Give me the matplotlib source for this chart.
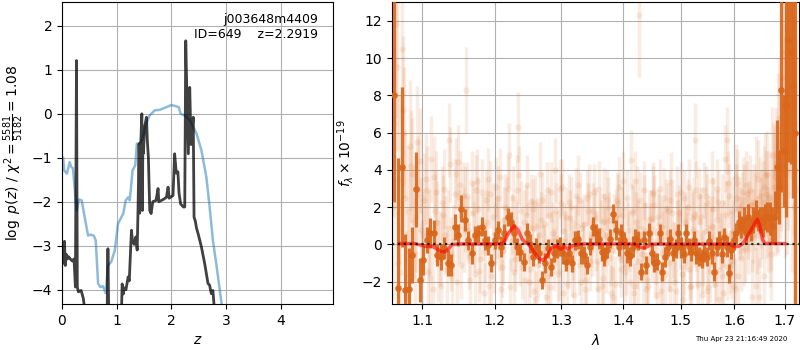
import matplotlib
matplotlib.use("Agg")
import matplotlib.pyplot as plt
from matplotlib.ticker import NullLocator, NullFormatter

# ---- left panel: redshift probability ----
z_prior = [0.00, 0.02, 0.04, 0.09, 0.14, 0.17, 0.20, 0.25, 0.27, 0.31, 0.36, 0.415, 0.476,
           0.52, 0.58, 0.617, 0.66, 0.70, 0.75, 0.80, 0.84, 0.90, 0.965, 1.025, 1.12, 1.165,
           1.21, 1.24, 1.29, 1.34, 1.37, 1.42, 1.47, 1.53, 1.60, 1.70, 1.79, 1.91, 2.00,
           2.09, 2.135, 2.17, 2.245, 2.34, 2.46, 2.55, 2.64, 2.70, 2.76, 2.83, 2.92, 2.96]
logp_prior = [-1.00, -0.99, -1.29, -1.36, -1.10, -1.21, -1.24, -1.97, -2.20, -1.95, -1.97, -2.35,
              -2.77, -2.75, -2.77, -2.88, -3.86, -3.94, -3.92, -4.08, -3.45, -3.37, -3.11, -2.50,
              -2.27, -1.97, -1.90, -1.97, -1.29, -1.17, -0.68, -0.68, -0.57, -0.27, -0.04, 0.08,
              0.09, 0.15, 0.20, 0.17, 0.15, 0.00, -0.04, -0.15, -0.45, -0.83, -1.44, -2.12,
              -2.88, -3.49, -4.33, -4.70]

z_grid = [0.00, 0.01, 0.03, 0.045, 0.06, 0.08, 0.10, 0.12, 0.15, 0.19, 0.22, 0.245, 0.265,
          0.28, 0.30, 0.35, 0.39, 0.43, 0.50, 0.60, 0.70, 0.80, 0.825, 0.84, 0.855, 0.88,
          0.95, 1.05, 1.09, 1.10, 1.12, 1.14, 1.17, 1.21, 1.23, 1.27, 1.29, 1.32, 1.35,
          1.375, 1.39, 1.41, 1.42, 1.44, 1.46, 1.47, 1.48, 1.49, 1.51, 1.545, 1.56, 1.58,
          1.605, 1.63, 1.66, 1.72, 1.757, 1.77, 1.85, 1.91, 1.94, 1.96, 2.03, 2.06, 2.09,
          2.12, 2.14, 2.17, 2.22, 2.245, 2.263, 2.28, 2.31, 2.336, 2.36, 2.40, 2.415, 2.44,
          2.46, 2.49, 2.55, 2.61, 2.67, 2.70, 2.73, 2.76, 2.79, 2.85]
logp_z = [-3.03, -3.30, -3.40, -2.90, -3.45, -3.20, -3.30, -3.25, -3.30, -3.35, -3.30, -3.94,
          1.21, -3.94, -4.05, -4.02, -4.20, -4.60, -5.00, -5.30, -5.40, -5.20, -4.60, -3.07,
          -4.60, -5.00, -5.00, -4.80, -4.40, -3.87, -4.10, -3.96, -4.00, -3.71, -3.80, -2.65,
          -2.90, -2.97, -2.80, -3.10, -2.20, -0.68, -2.26, -0.70, 0.00, -2.20, -0.50, -0.90,
          -0.30, -0.08, -0.60, -1.00, -2.20, -2.27, -2.00, -1.97, -1.70, -2.00, -1.95, -1.90,
          -1.67, -1.92, -1.86, -0.91, -1.35, -1.32, -1.80, -2.05, -2.12, -2.12, 1.66, 0.68,
          -0.91, 0.60, -0.70, -0.08, -2.35, -2.45, -2.60, -2.73, -3.03, -3.41, -3.86, -3.90,
          -4.09, -4.02, -4.50, -5.00]

# ---- right panel: 1D spectrum ----
wave = [1.0636, 1.0683, 1.0730, 1.0777, 1.0824, 1.0871, 1.0918, 1.0965, 1.1012, 1.1059,
        1.1106, 1.1153, 1.1200, 1.1247, 1.1294, 1.1341, 1.1388, 1.1435, 1.1482, 1.1529,
        1.1576, 1.1623, 1.1670, 1.1717, 1.1764, 1.1811, 1.1858, 1.1905, 1.1952, 1.1999,
        1.2046, 1.2093, 1.2140, 1.2187, 1.2234, 1.2281, 1.2328, 1.2375, 1.2422, 1.2469,
        1.2516, 1.2563, 1.2610, 1.2657, 1.2704, 1.2751, 1.2798, 1.2845, 1.2892, 1.2939,
        1.2986, 1.3033, 1.3080, 1.3127, 1.3174, 1.3221, 1.3268, 1.3315, 1.3362, 1.3409,
        1.3456, 1.3503, 1.3550, 1.3597, 1.3644, 1.3691, 1.3738, 1.3785, 1.3832, 1.3879,
        1.3926, 1.3973, 1.4020, 1.4067, 1.4114, 1.4161, 1.4208, 1.4255, 1.4302, 1.4349,
        1.4396, 1.4443, 1.4490, 1.4537, 1.4584, 1.4631, 1.4678, 1.4725, 1.4772, 1.4819,
        1.4866, 1.4913, 1.4960, 1.5007, 1.5054, 1.5101, 1.5148, 1.5195, 1.5242, 1.5289,
        1.5336, 1.5383, 1.5430, 1.5477, 1.5524, 1.5571, 1.5618, 1.5665, 1.5712, 1.5759,
        1.5806, 1.5853, 1.5900, 1.5947, 1.5994, 1.6041, 1.6088, 1.6135, 1.6182, 1.6229,
        1.6276, 1.6323, 1.6370, 1.6417, 1.6464, 1.6511, 1.6558, 1.6605, 1.6652, 1.6699,
        1.6746, 1.6793, 1.6840, 1.6887, 1.6934, 1.6981, 1.7028, 1.7075, 1.7122, 1.7169,
        1.7216]

flux = [8.0, -2.36, 4.16, -2.45, -2.4, -0.57, 2.95, -1.9,
        -0.84, 0.23, 0.6, 0.6, -0.57, -0.66, -0.2, -1.0, -1.1, 0.95, 0.5, 1.93, 1.3,
        0.23, -0.48, 0.5, 0.6, 0.95, 0.23, -0.04, -1.0, 0.23, 0.77, -0.12, 0.6, 1.48, 1.2,
        0.6, -0.12, -0.4, -0.93, 0.6, 0.05,
        -0.66, -0.12, -0.48, -1.9, -1.0, -0.2, -1.2, -0.48, -0.2, -0.12, -0.48, -0.93,
        -0.48, -1.0, 0.23, 0.28, -0.48, -0.57, -1.1, -0.12,
        0.95, 0.6, 0.32, -0.4, -0.66, -0.3, 0.32, 1.66, 0.77, -0.12, 0.6, 0.23, -0.48,
        -0.63, -0.12, 0.32, 0.2, -1.46, 0.25, -1.1,
        0.6, -0.48, -1.0, -0.93, 0.6, -1.46, -0.66, -0.12, 0.32, -0.45, -0.2, 0.6, -0.15,
        -0.5, 0.62, -0.1, -0.4, 0.23, -0.48, -0.66,
        -0.75, -0.5, -0.66, 0.2, -0.48, -1.46, -0.12, 0.25, -0.5, 0.41, -0.12, -1.55,
        -0.3, 0.23, 0.6, 1.2, 0.95, 1.3, 0.6, 1.48,
        0.77, 1.3, 1.66, 1.3, 1.3, 1.2, 1.48, 1.48, 1.4, 1.0, 1.45, 4.16, 3.09, 8.3, 5.0,
        7.5, 10.95, 10.3, 8.5, 6.0]

flux_err = [5.7, 7.0, 4.3, 3.0, 2.2, 1.5, 2.0, 1.2,
            0.8, 0.7, 0.8, 0.7, 0.6, 0.7, 0.6, 0.7, 0.6, 0.7, 0.6, 0.7, 0.6,
            0.5, 0.55, 0.5, 0.45, 0.5, 0.55, 0.5, 0.5, 0.45, 0.5, 0.55, 0.5, 0.5, 0.55,
            0.5, 0.45, 0.5, 0.5, 0.55, 0.5,
            0.5, 0.45, 0.5, 0.5, 0.55, 0.5, 0.5, 0.45, 0.5, 0.5, 0.55, 0.5, 0.5, 0.45,
            0.5, 0.5, 0.55, 0.5, 0.5, 0.45,
            0.5, 0.5, 0.55, 0.5, 0.5, 0.45, 0.5, 0.5, 0.55, 0.5, 0.5, 0.45, 0.5, 0.5,
            0.55, 0.5, 0.5, 0.45, 0.5, 0.5,
            0.55, 0.5, 0.5, 0.45, 0.5, 0.5, 0.55, 0.5, 0.5, 0.45, 0.5, 0.5, 0.55, 0.5,
            0.5, 0.45, 0.5, 0.5, 0.55, 0.5,
            0.5, 0.45, 0.5, 0.5, 0.55, 0.5, 0.5, 0.45, 0.5, 0.5, 0.55, 0.5, 0.5, 0.5,
            0.55, 0.6, 0.6, 0.7, 0.6, 0.7,
            0.6, 0.7, 0.7, 0.6, 0.7, 0.8, 0.7, 0.8, 0.9, 1.0, 1.4, 2.5, 2.0, 5.5, 3.0,
            6.0, 6.5, 6.0, 6.0, 20.0]

# individual beam spectra (faint)
beam_a = [11.8, 3.5, 7.2, -2.8, 5.3, 1.2, 5.5, 0.8,
          2.4, -1.5, 4.6, 1.8, -0.9, 2.2, 0.5, 5.6, -1.8, 3.8, 1.0, 2.6, 8.3,
          -0.6, 1.7, 2.9, -1.4, 0.9, 2.4, -2.2, 1.5, 3.1, 0.3, -1.2, 2.0, 4.8, 1.1,
          -0.8, 6.3, 1.8, -1.9, 0.6, 2.3,
          -2.5, 1.0, 3.8, -0.4, -2.8, 1.6, 0.2, 4.0, -1.6, 2.2, 0.7, -2.1, 1.4, -0.3,
          2.6, -1.1, 0.9, -2.4, 1.8, 0.4,
          2.8, -0.9, 1.3, -1.8, 0.5, 2.0, -2.6, 1.1, 2.4, -0.7, 1.6, -1.5, 0.8, 4.55,
          -2.2, 1.2, 12.3, -0.5, 2.1, -1.9,
          0.6, 2.7, -1.3, 1.5, -2.5, 0.3, 1.9, -1.0, 3.35, -2.0, 0.8, 1.7, -1.6, 2.5,
          0.1, -2.3, 1.4, 5.6, -0.8, 1.2,
          -2.7, 0.7, 2.2, -1.4, 1.0, -2.1, 3.0, 0.4, -1.7, 4.6, 5.6, -0.9, 1.8, -2.4,
          3.3, 0.9, 2.1, -0.3, 2.7, 1.5,
          0.4, 2.3, 3.8, -2.8, 1.9, 3.1, 2.7, 0.8, -0.5, 3.9, 2.2, 6.2, 3.5, 10.3, 7.2,
          4.0, 9.5, 12.0, 6.5, 3.0]

beam_b = [2.0, 9.5, -1.5, 6.0, 1.8, 4.2, -0.5, 3.0,
          -1.2, 3.5, 0.6, -2.4, 2.8, -0.2, 1.6, -1.3, 4.3, 0.2, -2.0, 3.2, 0.8,
          2.6, -1.9, 0.4, 3.4, -0.8, -2.6, 1.2, 2.7, -1.0, 0.9, 3.6, -0.3, 1.9, -2.3,
          2.5, 0.5, 3.7, -1.2, 1.6, -2.0,
          0.9, 2.2, -1.1, 1.3, -0.6, 2.9, -2.3, 0.6, 1.8, -1.4, 3.1, 0.2, -0.9, 2.0,
          -2.7, 1.0, 2.4, -0.4, -1.9, 2.7,
          -0.2, 1.5, -2.4, 0.8, 2.6, -1.0, 1.3, -0.3, -2.1, 2.2, 0.5, 3.4, -1.2, 0.2,
          1.8, -2.6, 0.9, 2.4, -1.6, 0.7,
          -2.2, 1.4, 2.8, -0.6, 1.1, -1.8, 2.5, 0.6, -2.4, 1.7, -0.4, 2.7, 0.3, -2.9,
          1.2, 2.0, -1.3, 0.8, 2.9, -2.1,
          1.5, -0.7, 2.6, -2.3, 0.4, 1.9, -1.5, 2.3, 0.1, -2.6, 1.6, 3.3, -1.1, 0.7,
          2.5, -1.7, 1.3, 2.8, -0.2, 1.1,
          2.9, -2.8, 1.7, 0.5, 2.6, 1.4, -1.7, 3.8, 2.5, 1.2, 3.1, 4.3, 2.8, 5.5, 9.0,
          3.8, 11.5, 8.0, 4.5, 2.0]

beam_c = [6.5, -1.0, 10.5, 2.5, -1.8, 3.8, 1.5, 4.5,
          0.5, 2.9, -1.8, 3.6, 1.2, -2.2, 3.0, 0.9, -0.5, 2.7, 4.4, -1.1, 1.9,
          0.8, 3.3, -1.6, 1.9, 2.8, -0.4, 3.5, -1.7, 0.6, 2.5, -2.4, 1.3, 3.0, 0.2,
          -1.5, 2.9, -0.6, 1.2, 3.2, -1.3,
          1.9, -2.9, 0.5, 2.4, 1.1, -1.7, 2.8, -0.8, 0.3, 3.0, -2.6, 1.5, 2.3, -1.2,
          0.6, 3.2, -2.0, 1.1, 2.5, -0.9,
          1.8, 0.2, 3.0, -2.2, 1.2, 2.4, -0.7, -2.8, 1.5, 3.1, -1.3, 0.4, 2.5, -2.0,
          1.7, 3.4, -0.9, 0.5, 2.9, -2.4,
          1.3, -0.5, 2.1, -2.7, 3.0, 0.9, -1.6, 1.8, 2.4, -0.3, -2.5, 1.0, 2.8, -1.2,
          0.5, 3.1, -2.2, 1.6, 0.2, 2.6,
          -1.0, 2.9, -2.5, 0.9, 3.4, -0.6, 1.3, -2.9, 2.2, 0.6, -1.2, 2.6, 0.0, -2.2,
          3.6, 1.9, -0.7, 2.4, 3.2, 0.3,
          2.1, 1.0, -2.2, 3.5, 0.9, 2.3, 3.7, 1.6, 0.2, 4.8, 3.6, 2.5, 6.8, 4.2, 7.8,
          10.0, 5.8, 9.0, 11.0, 4.0]

beam_err = [5.0, 4.5, 4.0, 3.5, 3.5, 3.0, 3.0, 2.8,
            2.5, 2.4, 2.3, 2.2, 2.2, 2.0, 2.1, 2.0, 2.0, 1.9, 2.0, 1.8, 2.3,
            1.8, 1.7, 1.9, 1.7, 1.8, 1.6, 1.7, 1.8, 1.6, 1.7, 1.6, 1.8, 1.7, 1.6,
            1.7, 1.9, 1.6, 1.7, 1.6, 1.5,
            1.6, 1.5, 1.7, 1.5, 1.6, 1.5, 1.6, 1.7, 1.5, 1.6, 1.5, 1.6, 1.5, 1.6,
            1.5, 1.6, 1.5, 1.6, 1.5, 1.6,
            1.5, 1.6, 1.5, 1.6, 1.5, 1.6, 1.5, 1.6, 1.5, 1.6, 1.5, 1.6, 1.5, 1.6,
            1.5, 1.6, 3.3, 1.5, 1.6, 1.5,
            1.6, 1.5, 1.6, 1.5, 1.6, 1.5, 1.6, 1.5, 1.6, 1.5, 1.6, 1.5, 1.6, 1.5,
            1.6, 1.5, 1.6, 2.0, 1.6, 1.5,
            1.6, 1.5, 1.6, 1.7, 1.6, 1.7, 1.6, 1.7, 1.6, 1.8, 1.8, 1.7, 1.8, 1.7,
            1.8, 1.7, 1.8, 1.9, 1.8, 1.9,
            1.9, 2.0, 2.0, 2.1, 2.1, 2.2, 2.3, 2.3, 2.5, 2.6, 2.8, 3.0, 3.2, 3.5, 4.0,
            4.5, 5.0, 5.5, 6.0, 8.0]

beam_a_wave = [w + 0.0016 for w in wave]
beam_b_wave = [w - 0.0016 for w in wave]

model_wave = [1.070, 1.090, 1.100, 1.105, 1.112, 1.118, 1.125, 1.130, 1.135, 1.140, 1.150,
              1.200, 1.212, 1.220, 1.228, 1.234, 1.240, 1.245, 1.250, 1.257, 1.265, 1.272,
              1.278, 1.285, 1.290, 1.295, 1.300, 1.305, 1.310, 1.318, 1.330, 1.420, 1.430,
              1.436, 1.442, 1.450, 1.590, 1.600, 1.608, 1.615, 1.625, 1.635, 1.645, 1.650,
              1.655, 1.660, 1.700]
model_flux = [0.05, 0.05, -0.05, -0.10, -0.08, -0.20, -0.38, -0.40, -0.25, 0.00, 0.03,
              0.03, 0.05, 0.60, 1.00, 0.80, 0.30, 0.10, 0.05, -0.35, -0.75, -0.85,
              -0.60, -0.20, -0.05, -0.15, -0.25, -0.10, -0.25, -0.05, 0.03, 0.03, -0.15,
              -0.20, -0.10, 0.02, 0.02, -0.12, -0.10, 0.00, 0.40, 0.90, 1.35, 1.00,
              0.30, 0.05, 0.05]

orange = '#d9661a'

fig = plt.figure(figsize=(8, 3.5), dpi=100)
ax1 = fig.add_axes([0.0775, 0.131, 0.339, 0.863])
ax2 = fig.add_axes([0.4896, 0.131, 0.5095, 0.863])

# left panel
ax1.plot(z_prior, logp_prior, color='#1f77b4', alpha=0.5, lw=1.8)
ax1.plot(z_grid, logp_z, color='k', alpha=0.75, lw=2)
ax1.set_xlim(0, 4.96)
ax1.set_ylim(-4.33, 2.54)
ax1.set_xticks([0, 1, 2, 3, 4])
ax1.set_yticks([-4, -3, -2, -1, 0, 1, 2])
ax1.grid(True)
ax1.set_xlabel(r'$z$')
ax1.set_ylabel(r'$\log\ p(z)$ / $\chi^2=\frac{5581}{5182}=1.08$')
ax1.text(0.945, 0.965, 'j003648m4409\nID=649    z=2.2919', transform=ax1.transAxes,
         ha='right', va='top', fontsize=9)

# right panel
for bw, bf in [(beam_a_wave, beam_a), (beam_b_wave, beam_b), (wave, beam_c)]:
    ax2.errorbar(bw, bf, yerr=beam_err, fmt='o', color=orange, alpha=0.12,
                 ms=4.5, mew=0, elinewidth=2.5, zorder=2)
ax2.errorbar(wave, flux, yerr=flux_err, fmt='o', color=orange, alpha=0.9,
             ms=4.8, mew=0, elinewidth=2.3, zorder=3)
ax2.plot(model_wave, model_flux, color='r', alpha=0.6, lw=2.5, zorder=4)
ax2.axhline(0, color='k', ls=':', lw=1.6, alpha=0.8, zorder=5)

ax2.set_xscale('log')
ax2.set_xlim(1.0603, 1.730)
ax2.set_ylim(-3.2, 13.0)
ax2.set_xticks([1.1, 1.2, 1.3, 1.4, 1.5, 1.6, 1.7])
ax2.set_xticklabels(['1.1', '1.2', '1.3', '1.4', '1.5', '1.6', '1.7'])
ax2.xaxis.set_minor_locator(NullLocator())
ax2.xaxis.set_minor_formatter(NullFormatter())
ax2.set_yticks([-2, 0, 2, 4, 6, 8, 10, 12])
ax2.grid(True)
ax2.set_axisbelow(True)
ax2.set_xlabel(r'$\lambda$')
ax2.set_ylabel(r'$f_\lambda\times10^{-19}$')

fig.text(0.984, 0.022, 'Thu Apr 23 21:16:49 2020', ha='right', va='bottom', fontsize=5)

fig.savefig('out.png', dpi=100)
